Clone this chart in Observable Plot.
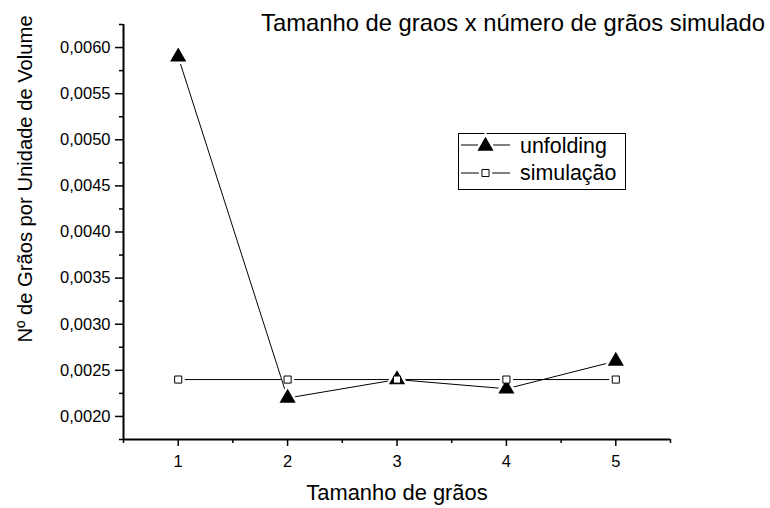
<!DOCTYPE html>
<html>
<head>
<meta charset="utf-8">
<script src="https://cdn.jsdelivr.net/npm/d3@7"></script>
<script src="https://cdn.jsdelivr.net/npm/@observablehq/plot@0.6"></script>
<style>
  body { margin: 0; background: #fff; }
  svg { font-family: "Liberation Sans", Arial, sans-serif; }
</style>
</head>
<body>
<div id="chart"></div>
<script>
const xValues = [1, 2, 3, 4, 5];
const unfolding = [0.0059, 0.0022, 0.0024, 0.0023, 0.0026];
const simulacao = [0.0024, 0.0024, 0.0024, 0.0024, 0.0024];
const xTicks = [1, 2, 3, 4, 5];
const xMinorTicks = [0.5, 1.5, 2.5, 3.5, 4.5, 5.5];
const yTicks = [0.0020, 0.0025, 0.0030, 0.0035, 0.0040, 0.0045, 0.0050, 0.0055, 0.0060];
const yMinorTicks = [0.00175, 0.00225, 0.00275, 0.00325, 0.00375, 0.00425, 0.00475, 0.00525, 0.00575, 0.00625];
const xDomain = [0.5, 5.5];
const yDomain = [0.00175, 0.00625];
const seriesNames = ["unfolding", "simulação"];
const titleText = "Tamanho de graos x número de grãos simulado";
const xLabel = "Tamanho de grãos";
const yLabel = "Nº de Grãos por Unidade de Volume";

const unfData = xValues.map((x, i) => ({x, y: unfolding[i]}));
const simData = xValues.map((x, i) => ({x, y: simulacao[i]}));
const fmt = v => d3.format(".4f")(v).replace(".", ",");

const chart = Plot.plot({
  width: 770,
  height: 508,
  marginLeft: 123,
  marginRight: 100,
  marginTop: 24,
  marginBottom: 69,
  style: {fontSize: "16.5px", fontFamily: "'Liberation Sans', Arial, sans-serif", color: "#000", background: "#fff"},
  x: {domain: xDomain},
  y: {domain: yDomain},
  marks: [
    Plot.axisY(yTicks, {tickSize: 8, tickPadding: 5, tickFormat: fmt, strokeWidth: 1.5, label: null}),
    Plot.axisY(yMinorTicks, {tickSize: 4, tickFormat: () => "", strokeWidth: 1.5, label: null}),
    Plot.axisX(xTicks, {tickSize: 7, tickPadding: 9, tickFormat: d => String(d), strokeWidth: 1.5, label: null}),
    Plot.axisX(xMinorTicks, {tickSize: 4, tickFormat: () => "", strokeWidth: 1.5, label: null}),
    Plot.ruleX([xDomain[0]], {strokeWidth: 2}),
    Plot.ruleY([yDomain[0]], {strokeWidth: 2}),
    Plot.line(simData, {x: "x", y: "y", stroke: "black", strokeWidth: 1}),
    Plot.dot(simData, {x: "x", y: "y", symbol: "square", r: 7.5, fill: "white", stroke: null}),
    Plot.line(unfData, {x: "x", y: "y", stroke: "black", strokeWidth: 1}),
    Plot.dot(unfData, {x: "x", y: "y", symbol: "triangle", r: 6, fill: "black", stroke: "white", strokeWidth: 5, paintOrder: "stroke"}),
    Plot.dot(simData, {x: "x", y: "y", symbol: "square", r: 4, fill: "white", stroke: "black", strokeWidth: 1})
  ]
});
document.getElementById("chart").appendChild(chart);

const svg = d3.select(chart);
const font = "'Liberation Sans', Arial, sans-serif";

svg.append("text")
  .attr("x", 765).attr("y", 31)
  .attr("text-anchor", "end")
  .attr("font-family", font).attr("font-size", 23.8)
  .attr("fill", "black")
  .text(titleText);

svg.append("text")
  .attr("x", 397).attr("y", 500)
  .attr("text-anchor", "middle")
  .attr("font-family", font).attr("font-size", 21.9)
  .attr("fill", "black")
  .text(xLabel);

svg.append("text")
  .attr("transform", "translate(32,179) rotate(-90)")
  .attr("text-anchor", "middle")
  .attr("font-family", font).attr("font-size", 20.2)
  .attr("fill", "black")
  .text(yLabel);

// Legend
const lg = svg.append("g");
lg.append("rect")
  .attr("x", 458.5).attr("y", 133.5).attr("width", 167).attr("height", 56)
  .attr("fill", "white").attr("stroke", "black").attr("stroke-width", 1);
const rows = [{y: 145, base: 153}, {y: 173, base: 180}];
rows.forEach((r, i) => {
  lg.append("line").attr("x1", 461).attr("x2", 510).attr("y1", r.y).attr("y2", r.y)
    .attr("stroke", "black").attr("stroke-width", 1);
  if (i === 0) {
    lg.append("path")
      .attr("d", d3.symbol(d3.symbolTriangle, 6 * 6 * Math.PI)())
      .attr("transform", `translate(485.5,${r.y + 1})`)
      .attr("fill", "black").attr("stroke", "white").attr("stroke-width", 5).attr("paint-order", "stroke");
  } else {
    lg.append("path")
      .attr("d", d3.symbol(d3.symbolSquare, 7.5 * 7.5 * Math.PI)())
      .attr("transform", `translate(485.5,${r.y})`)
      .attr("fill", "white");
    lg.append("path")
      .attr("d", d3.symbol(d3.symbolSquare, 4 * 4 * Math.PI)())
      .attr("transform", `translate(485.5,${r.y})`)
      .attr("fill", "white").attr("stroke", "black").attr("stroke-width", 1);
  }
  lg.append("text").attr("x", 520).attr("y", r.base)
    .attr("text-anchor", "start")
    .attr("font-family", font).attr("font-size", 21.4).attr("fill", "black")
    .text(seriesNames[i]);
});
</script>
</body>
</html>
